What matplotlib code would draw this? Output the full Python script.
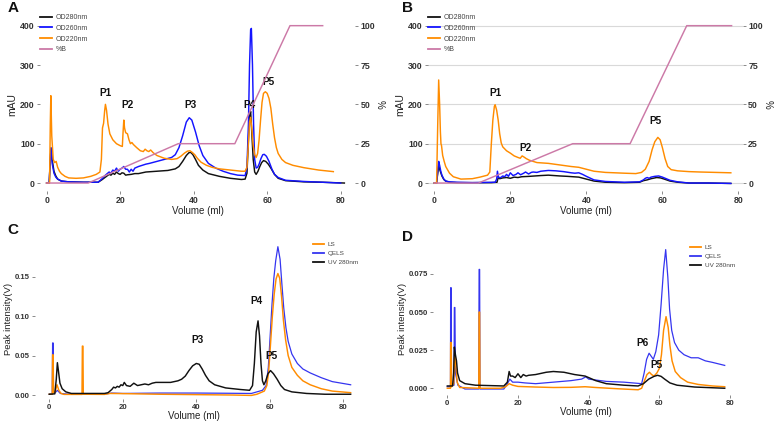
import numpy as np
import matplotlib
matplotlib.use("Agg")
import matplotlib.pyplot as plt

plt.rcParams['font.family'] = ['Liberation Sans', 'DejaVu Sans']

# ---------------- data (volume ml, value) ----------------
A_od280 = [(0,0),(0.7,0),(1.0,60),(1.2,88),(1.5,60),(2,30),(2.5,18),(3,10),(4,5),(6,3),(10,2),(14,2),(15,8),(16,15),(17,22),(17.5,20),(18,25),(18.5,22),(19,28),(19.5,24),(20,22),(20.5,26),(21,25),(21.5,20),(22,21),(23,22),(24,24),(25,24),(27,28),(30,30),(33,32),(35,36),(36,42),(37,55),(38,70),(38.7,77),(39.2,78),(39.8,72),(40.5,60),(41.3,45),(42.5,33),(44,24),(47,17),(50,12),(53,9),(54,10),(54.5,25),(54.9,110),(55.2,170),(55.5,182),(55.8,130),(56.2,60),(56.6,28),(57.0,22),(57.5,30),(58.0,42),(58.5,52),(59.0,57),(59.6,55),(60.3,48),(61,38),(62,22),(63,12),(65,6),(70,3),(75,2),(81,0)]
A_od260 = [(0,0),(0.7,0),(1.0,60),(1.2,90),(1.5,50),(2,25),(2.5,15),(3,10),(4,5),(6,3),(10,2),(14,2),(15,10),(16,20),(17,28),(17.5,25),(18,33),(18.5,30),(19,38),(19.5,30),(20,35),(20.5,38),(21,42),(21.5,35),(22,35),(22.5,28),(23,35),(23.5,30),(24,38),(25,42),(26,45),(27,48),(28,50),(30,55),(32,60),(34,65),(35,72),(36,90),(37,120),(38,155),(38.8,166),(39.5,160),(40.5,130),(41.5,95),(42.5,70),(44,50),(46,38),(48,30),(50,24),(52,20),(54,19),(54.5,40),(54.9,150),(55.2,300),(55.5,390),(55.7,393),(56.0,300),(56.3,150),(56.6,60),(57.0,38),(57.4,40),(57.8,48),(58.3,62),(58.8,72),(59.2,73),(59.8,68),(60.5,55),(61.3,35),(62,22),(63,14),(65,7),(70,4),(75,2),(80,0)]
A_od220 = [(0,0),(0.8,0),(1.0,150),(1.15,222),(1.4,120),(1.8,60),(2.2,52),(2.6,55),(3.0,40),(3.5,30),(4,24),(5,17),(6,13),(8,12),(10,13),(12,17),(13.5,22),(14.5,28),(14.9,60),(15.2,140),(15.5,152),(15.8,185),(16.0,200),(16.3,185),(16.7,150),(17.2,125),(18,110),(19,100),(20,95),(20.6,93),(20.8,130),(21.0,160),(21.2,140),(21.5,128),(22,125),(22.4,110),(22.8,100),(23.2,103),(23.6,98),(24.5,90),(25.5,82),(26.3,80),(26.8,86),(27.3,82),(27.8,80),(28.3,84),(29,77),(30,70),(32,63),(34,60),(35.5,62),(36.5,68),(37.5,76),(38.3,81),(39,82),(39.6,78),(40.3,72),(41,63),(42,53),(43.5,45),(45,40),(47,36),(50,33),(53,30),(54,30),(54.5,40),(54.9,100),(55.2,155),(55.5,167),(55.8,140),(56.2,95),(56.6,72),(57.0,65),(57.4,75),(57.8,110),(58.2,160),(58.6,205),(59.0,228),(59.5,232),(60.0,228),(60.5,215),(61.0,190),(61.5,150),(62.0,115),(62.5,90),(63,75),(64,60),(65,52),(67,45),(70,39),(74,33),(78,29)]
A_pctB = [(0,0),(11.3,0),(35.8,25),(51.2,25),(66.2,100),(75.1,100)]

B_od280 = [(0,0),(0.6,0),(0.9,25),(1.15,45),(1.5,32),(2,18),(2.5,9),(3,5),(4,2),(6,1),(15,1),(16.5,2),(16.8,14),(17.2,11),(18,13),(19,14),(20,12),(21,15),(22,14),(23,16),(25,17),(28,19),(30,20),(33,18),(35,17),(38,15),(40,10),(42,5),(45,2),(50,1),(54,2),(55,6),(56,8),(57,11),(58.5,14),(59.5,13),(60.5,10),(62,5),(64,2),(67,0),(72,0),(78,-1)]
B_od260 = [(0,0),(0.6,0),(0.9,30),(1.15,55),(1.4,45),(1.7,30),(2,20),(2.5,10),(3,5),(4,3),(6,2),(10,1),(16,2),(16.4,10),(16.6,30),(16.9,14),(17.5,14),(18,18),(18.5,16),(19,22),(19.5,17),(20,26),(20.7,19),(21.5,22),(22,26),(22.7,21),(23.5,25),(24,28),(24.8,23),(25.5,27),(26,28),(27,27),(28,30),(30,32),(32,31),(34,29),(36,26),(37,25),(38,26),(39,22),(40,17),(42,8),(45,4),(50,2),(54,3),(55,8),(55.5,12),(56,14),(56.5,12),(57,15),(58,17),(59,18),(60,15),(61,11),(62,7),(64,3),(67,0),(72,0),(78,-1)]
B_od220 = [(0,0),(0.6,0),(0.9,150),(1.15,262),(1.4,200),(1.6,130),(1.75,100),(1.9,95),(2.2,70),(2.6,55),(3,42),(4,25),(5,16),(7,10),(10,11),(12,15),(14,20),(14.6,28),(15,100),(15.4,160),(15.8,195),(16.0,199),(16.4,185),(16.8,160),(17.2,125),(17.6,102),(18,92),(19,82),(20,76),(21,69),(22,65),(22.6,63),(23.1,69),(23.6,66),(24.2,62),(25,58),(27,52),(30,50),(33,46),(36,42),(38,40),(40,35),(42,30),(45,27),(50,25),(53,24),(54.5,27),(55.5,35),(56.5,55),(57.3,85),(58,105),(58.8,116),(59.4,110),(60,90),(60.7,62),(61.4,42),(62.3,34),(64,31),(67,29),(70,28),(74,27),(78,26)]
B_pctB = [(0,0),(11.6,0),(36.4,25),(51.5,25),(66.4,100),(78.2,100)]

C_ls = [(0,0.001),(0.8,0.001),(0.9,0.051),(1.05,0.051),(1.15,0.003),(1.6,0.004),(2.1,0.013),(2.6,0.006),(3.2,0.002),(4,0.0008),(8.9,0.0008),(9.0,0.062),(9.15,0.062),(9.25,0.001),(15,0.0008),(16.5,0.002),(20,0.0018),(30,0.001),(40,0.0005),(50,0.0),(55,-0.0005),(56.5,0.001),(57.5,0.003),(58.5,0.005),(59.2,0.012),(59.7,0.03),(60.2,0.065),(60.7,0.1),(61.2,0.128),(61.7,0.147),(62.2,0.154),(62.7,0.148),(63.2,0.125),(63.7,0.095),(64.3,0.07),(65,0.05),(66,0.035),(67.5,0.025),(69,0.018),(71,0.013),(74,0.008),(77,0.005),(82,0.003)]
C_qels = [(0,0.001),(0.8,0.001),(0.9,0.066),(1.05,0.066),(1.15,0.003),(1.6,0.003),(2.2,0.006),(3,0.002),(5,0.0012),(15,0.0012),(17,0.0025),(20,0.002),(30,0.0025),(40,0.0025),(50,0.0022),(55,0.002),(56.5,0.004),(58,0.006),(59,0.012),(59.6,0.035),(60.1,0.075),(60.6,0.115),(61.1,0.148),(61.6,0.17),(62.2,0.188),(62.8,0.172),(63.3,0.14),(63.8,0.11),(64.4,0.085),(65,0.068),(66,0.052),(67.5,0.04),(69,0.033),(71,0.028),(74,0.022),(77,0.017),(82,0.013)]
C_uv = [(0,0.001),(1.5,0.0015),(1.9,0.02),(2.2,0.041),(2.5,0.03),(2.9,0.015),(3.5,0.008),(4.5,0.004),(6,0.002),(15,0.002),(16,0.003),(17,0.007),(17.5,0.01),(18,0.009),(18.5,0.011),(19,0.01),(19.5,0.013),(20,0.012),(20.4,0.016),(21,0.012),(22,0.011),(23,0.015),(24,0.012),(25,0.013),(26,0.014),(27,0.013),(28,0.015),(29,0.016),(31,0.016),(33,0.016),(35,0.018),(36,0.02),(37,0.024),(38,0.031),(39,0.037),(40,0.04),(40.8,0.039),(41.6,0.033),(42.5,0.025),(43.5,0.018),(45,0.013),(48,0.009),(52,0.007),(54.5,0.006),(55.3,0.012),(55.8,0.04),(56.3,0.08),(56.8,0.094),(57.2,0.075),(57.6,0.04),(58,0.018),(58.4,0.013),(58.9,0.018),(59.5,0.027),(60.2,0.031),(61,0.027),(62,0.02),(63,0.012),(64,0.007),(66,0.004),(70,0.002),(75,0.001),(82,0.001)]

D_ls = [(0,0.0),(0.9,0.0),(0.95,0.030),(1.1,0.030),(1.2,0.001),(1.8,0.003),(2.1,0.022),(2.4,0.015),(2.8,0.004),(3.5,0.0005),(8.9,0.0),(9.0,0.05),(9.15,0.05),(9.25,0.0),(15,0.0),(16.5,0.001),(17.5,0.003),(18.5,0.002),(20,0.0012),(25,0.0008),(30,0.0005),(35,0.0006),(39,0.001),(42,0.0005),(48,-0.0003),(54,-0.001),(55,0.0),(55.8,0.005),(56.5,0.009),(57.2,0.0105),(57.8,0.009),(58.5,0.008),(59.3,0.01),(60,0.013),(60.6,0.022),(61.2,0.038),(61.9,0.047),(62.5,0.04),(63,0.028),(63.6,0.018),(64.5,0.011),(66,0.007),(68,0.004),(71,0.0025),(75,0.0015),(78.5,0.001)]
D_qels = [(0,0.001),(0.9,0.001),(0.95,0.066),(1.1,0.066),(1.2,0.002),(1.9,0.002),(2.0,0.053),(2.15,0.053),(2.3,0.01),(3,0.002),(5,-0.0005),(8.9,-0.0005),(9.0,0.078),(9.15,0.078),(9.25,-0.0005),(16,-0.0005),(17,0.003),(17.7,0.006),(18.5,0.004),(20,0.004),(22,0.0035),(25,0.003),(30,0.004),(35,0.005),(38,0.006),(39.2,0.0075),(40,0.006),(45,0.0045),(50,0.004),(55,0.003),(55.7,0.01),(56.4,0.019),(57.1,0.023),(57.7,0.021),(58.3,0.019),(59,0.024),(59.8,0.035),(60.5,0.055),(61.2,0.078),(61.8,0.091),(62.4,0.073),(62.9,0.052),(63.5,0.038),(64.3,0.03),(65.5,0.025),(67,0.022),(69,0.02),(71,0.02),(73,0.018),(75,0.017),(78.5,0.015)]
D_uv = [(0,0.0015),(1.5,0.0015),(1.8,0.01),(2.0,0.027),(2.3,0.022),(2.6,0.018),(2.9,0.01),(3.5,0.005),(5,0.003),(8,0.002),(16,0.0015),(17,0.004),(17.5,0.011),(17.9,0.008),(18.5,0.008),(19.2,0.007),(20,0.0095),(20.8,0.007),(21.5,0.009),(22.3,0.008),(23,0.0085),(25,0.009),(28,0.0105),(30,0.011),(33,0.0105),(36,0.009),(39,0.008),(40,0.007),(42,0.005),(45,0.003),(50,0.002),(54,0.0015),(55.5,0.003),(57,0.006),(58.5,0.0078),(59.5,0.0085),(60.5,0.0078),(61.5,0.006),(63,0.0035),(65,0.002),(70,0.0008),(78.5,0.0)]

A_labels = [("P1",16.1,228),("P2",22.0,198),("P3",39.2,198),("P4",55.3,198),("P5",60.3,258)]
B_labels = [("P1",16.1,228),("P2",24.1,90),("P5",58.3,158)]
C_labels = [("P3",40.4,0.0697),("P4",56.4,0.1195),("P5",60.5,0.0494)]
D_labels = [("P6",55.2,0.0295),("P5",59.2,0.0151)]

x_ticks = [0, 20, 40, 60, 80]
mau_ticks = [0, 100, 200, 300, 400]
pct_ticks = [0, 25, 50, 75, 100]
C_yticks = [0.00, 0.05, 0.10, 0.15]
D_yticks = [0.000, 0.025, 0.050, 0.075]

# ---------------- style ----------------
W, H = 776, 426
ORANGE = "#FF8C00"
BLUE = "#1414FF"
QBLUE = "#3535F0"
BLACK = "#111111"
PINK = "#CC79A7"
TICKC = "#333333"

fig = plt.figure(figsize=(W/100, H/100), dpi=100)

def add_ax(l, r, t, b):
    return fig.add_axes([l/W, 1-b/H, (r-l)/W, (b-t)/H])

def style(ax, xl, yl, xt, yt, yfmt, fs):
    for s in ax.spines.values():
        s.set_visible(False)
    ax.set_xlim(*xl); ax.set_ylim(*yl)
    ax.set_xticks(xt); ax.set_yticks(yt)
    ax.set_xticklabels([str(v) for v in xt])
    ax.set_yticklabels([yfmt.format(v) for v in yt])
    ax.tick_params(length=2.2, width=0.6, color="#777777", labelsize=fs,
                   labelcolor=TICKC, pad=1.5)
    for lb in ax.get_xticklabels() + ax.get_yticklabels():
        lb.set_fontweight("bold")

def xy(d):
    a = np.array(d, dtype=float)
    return a[:, 0], a[:, 1]

def peak_labels(ax, labs):
    for t, x, y in labs:
        ax.text(x, y, t, ha="center", va="center", fontsize=7.2,
                fontweight="bold", color="#111111")

lw = 1.05

# ---------------- panel A / B ----------------
for (l, r, xl, data, labs, pct, grid, letter, lx) in [
    (40, 355.4, (-1.8, 84.0), (A_od280, A_od260, A_od220), A_labels, A_pctB, False, "A", 8),
    (428, 743, (-1.66, 81.2), (B_od280, B_od260, B_od220), B_labels, B_pctB, True, "B", 402),
]:
    ax = add_ax(l, r, 17.8, 190.9)
    style(ax, xl, (-20, 420), x_ticks, mau_ticks, "{:d}", 6.3)
    if grid:
        ax.yaxis.grid(True, color="#D9D9D9", lw=0.8)
        ax.set_axisbelow(True)
    h1, = ax.plot(*xy(data[0]), color=BLACK, lw=lw, label="OD280nm")
    h2, = ax.plot(*xy(data[1]), color=BLUE, lw=lw, label="OD260nm")
    h3, = ax.plot(*xy(data[2]), color=ORANGE, lw=lw, label="OD220nm")
    ax.set_ylabel("mAU", fontsize=7.5, color="#222222", labelpad=2)
    ax.set_xlabel("Volume (ml)", fontsize=7, color="#222222", labelpad=0.5)
    peak_labels(ax, labs)
    ax2 = ax.twinx()
    for s in ax2.spines.values():
        s.set_visible(False)
    ax2.set_ylim(-5, 105)
    ax2.set_yticks(pct_ticks)
    ax2.set_yticklabels([str(v) for v in pct_ticks])
    ax2.tick_params(length=2.2, width=0.6, color="#777777", labelsize=6.3,
                    labelcolor=TICKC, pad=1.5)
    for lb in ax2.get_yticklabels():
        lb.set_fontweight("bold")
    h4, = ax2.plot(*xy(pct), color=PINK, lw=lw, label="%B")
    ax2.set_ylabel("%", fontsize=7, color="#222222", rotation=-90, labelpad=7)
    leg = ax2.legend(handles=[h1, h2, h3, h4], loc="upper left",
                     bbox_to_anchor=((l + 0) / W, 1 - 14 / H), bbox_transform=fig.transFigure,
                     frameon=False, fontsize=5, handlelength=1.7, handletextpad=0.6,
                     labelspacing=0.55, borderaxespad=0, borderpad=0)
    for t in leg.get_texts():
        t.set_color("#444444")
    for lh in leg.get_lines():
        lh.set_linewidth(1.3)
    fig.text(lx / W, 1 - 8 / H, letter, fontsize=11, fontweight="bold",
             va="center", ha="left", color="#111111")

# ---------------- panel C / D ----------------
for (l, r, t, b, xl, yl, yt, yfmt, data, labs, letter, lxy, legx, legy) in [
    (35, 353, 239.6, 398.5, (-3.89, 82.64), (-0.0044, 0.197), C_yticks, "{:.2f}",
     (C_ls, C_qels, C_uv), C_labels, "C", (7, 230), 313, 242),
    (433.3, 738.6, 242.6, 394.5, (-3.96, 82.43), (-0.0041, 0.0956), D_yticks, "{:.3f}",
     (D_ls, D_qels, D_uv), D_labels, "D", (402, 237), 690, 245),
]:
    ax = add_ax(l, r, t, b)
    style(ax, xl, yl, x_ticks, yt, yfmt, 5.6)
    hq, = ax.plot(*xy(data[1]), color=QBLUE, lw=0.9, label="QELS")
    hl, = ax.plot(*xy(data[0]), color=ORANGE, lw=lw, label="LS")
    hu, = ax.plot(*xy(data[2]), color=BLACK, lw=lw, label="UV 280nm")
    ax.set_ylabel("Peak intensity(V)", fontsize=6.8, color="#222222", labelpad=1.5)
    ax.set_xlabel("Volume (ml)", fontsize=7, color="#222222", labelpad=0)
    peak_labels(ax, labs)
    leg = ax.legend(handles=[hl, hq, hu], loc="upper left",
                    bbox_to_anchor=(legx / W, 1 - legy / H), bbox_transform=fig.transFigure,
                    frameon=False, fontsize=4.6, handlelength=1.7, handletextpad=0.6,
                    labelspacing=0.5, borderaxespad=0, borderpad=0)
    for tx in leg.get_texts():
        tx.set_color("#444444")
    for lh in leg.get_lines():
        lh.set_linewidth(1.3)
    fig.text(lxy[0] / W, 1 - lxy[1] / H, letter, fontsize=11, fontweight="bold",
             va="center", ha="left", color="#111111")

fig.savefig("out.png", dpi=100)
